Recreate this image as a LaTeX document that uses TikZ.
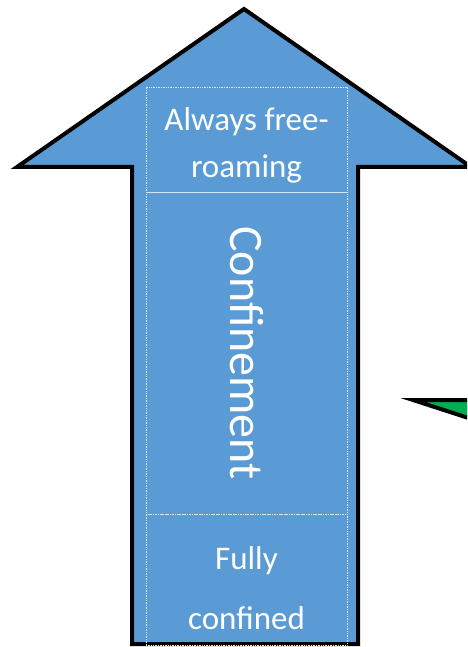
\documentclass[tikz,border=0pt]{standalone}
\usepackage{fontspec}
\setmainfont{Carlito}
\definecolor{pfeil}{HTML}{5B9BD5}
\definecolor{gruen}{HTML}{00B050}

\begin{document}
\begin{tikzpicture}[
    x=1pt, y=-1pt,
    umriss/.style={draw=black, line width=4pt, line join=miter},
    zelle/.style={draw=white!75!pfeil, densely dotted, line width=0.7pt, minimum width=201pt,
                  inner sep=0pt},
    zeile/.style={font=\fontsize{33}{47}\selectfont, text=white, align=center, inner sep=0pt},
    zeileweit/.style={zeile, font=\fontsize{33}{60}\selectfont},
    titel/.style={font=\fontsize{48}{56}\selectfont, text=white, rotate=-90, inner sep=0pt},
  ]

  % Bildausschnitt fest, rechter Rand schneidet die Formen ab
  \useasboundingbox (0,0) rectangle (467,647);
  \clip (0,0) rectangle (467,647);

  % grüner Pfeil rechts, nur seine Spitze ist zu sehen
  \filldraw[fill=gruen, umriss] (413,400) -- (490,400) -- (490,425) -- cycle;

  % blauer Pfeil nach oben
  \filldraw[fill=pfeil, umriss] (244,9) -- (471,167) -- (358,167) -- (358,644)
    -- (132,644) -- (132,167) -- (17,167) -- cycle;

  % Zellen im Schaft
  \node[zelle, minimum height=105pt] (oben) at (246.5,139.5) {};
  \node[zelle, minimum height=322pt] (mitte) at (246.5,353) {};
  \node[zelle, minimum height=131pt] (unten) at (246.5,579.5) {};

  % Texte in den Zellen
  \node[zeile] (frei) at ([yshift=-6pt]oben.center) {Always free-\\roaming};
  \node[titel] (achse) at (mitte.center) {Confinement};
  \node[zeileweit] (fest) at ([yshift=-9pt]unten.center) {Fully\\confined};

\end{tikzpicture}
\end{document}
